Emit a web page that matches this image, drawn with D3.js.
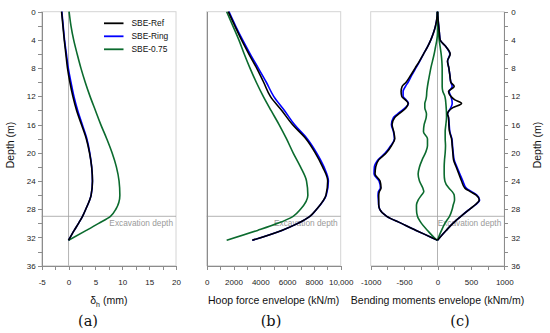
<!DOCTYPE html>
<html>
<head>
<meta charset="utf-8">
<script src="https://cdn.jsdelivr.net/npm/d3@7"></script>
<style>
  body { margin: 0; background: #fff; }
  svg { font-family: "Liberation Sans", Arial, sans-serif; }
  .axis path, .axis line { stroke: #8c8c8c; shape-rendering: crispEdges; }
  .axis text { fill: #222; font-size: 8px; }
</style>
</head>
<body>
<svg id="chart" width="550" height="333"></svg>
<script>
// ---- data ----
var seriesNames = ["SBE-Ref", "SBE-Ring", "SBE-0.75"];

// (a) lateral displacement (mm) vs depth (m)
var depthA = [0, 2, 4, 6, 8, 10, 12, 14, 16, 18, 20, 22, 24, 26, 28, 29, 30, 31, 32.4];
var refA   = [-1.3, -1.05, -0.8, -0.5, -0.2, 0.25, 0.8, 1.5, 2.4, 3.3, 3.9, 4.3, 4.45, 4.2, 3.2, 2.6, 1.85, 1.05, 0];
var ringA  = [-1.25, -1.0, -0.75, -0.4, -0.05, 0.45, 1.0, 1.7, 2.55, 3.4, 3.95, 4.3, 4.45, 4.2, 3.2, 2.6, 1.85, 1.05, 0];
var redA   = [0.1, 0.45, 0.95, 1.6, 2.3, 3.1, 4.0, 5.0, 6.0, 7.1, 8.1, 8.9, 9.4, 9.55, 8.8, 7.8, 5.6, 3.3, 0];

// (b) hoop force envelope (kN/m) vs depth (m)
var depthB = [0, 2, 4, 6, 8, 10, 12, 14, 16, 18, 20, 22, 24, 26, 28, 29, 30, 31, 32.4];
var refB   = [1610, 2100, 2600, 3150, 3730, 4250, 4750, 5600, 6400, 7400, 8100, 8650, 9030, 8900, 8200, 7700, 6800, 5600, 3400];
var ringB  = [1660, 2150, 2680, 3250, 3850, 4450, 5000, 5800, 6550, 7500, 8200, 8750, 9080, 8920, 8200, 7700, 6800, 5600, 3400];
var redB   = [1490, 1950, 2400, 2800, 3230, 3700, 4220, 4800, 5400, 5950, 6450, 7000, 7450, 7550, 7000, 6450, 5300, 3800, 1490];

// (c) bending moment envelope (kNm/m) vs depth (m), min and max branches
var depthC = [0, 1, 2, 3, 4, 5, 6, 7, 8, 9, 10, 10.6, 11.3, 12, 12.5, 13, 13.6, 14.5, 15, 16, 17, 18, 19, 20,
              21, 22, 23, 24, 25, 25.5, 26, 26.7, 27.4, 28, 29, 30, 31, 32, 32.4];
var refMinC  = [0, -10, -30, -60, -100, -150, -210, -270, -335, -400, -470, -530, -545, -535, -480, -440, -470, -580, -640, -680,
                -655, -640, -690, -765, -880, -925, -935, -860, -845, -870, -880, -880, -880, -865, -760, -540, -320, -90, 0];
var refMaxC  = [0, 8, 18, 28, 40, 130, 190, 150, 170, 185, 200, 250, 165, 200, 260, 360, 230, 150, 165, 170,
                180, 210, 220, 230, 240, 280, 320, 360, 410, 490, 580, 625, 560, 480, 350, 230, 130, 35, 0];
var ringMinC = [0, -10, -30, -60, -100, -150, -210, -265, -325, -385, -440, -480, -515, -515, -470, -435, -480, -600, -660, -690,
                -660, -645, -700, -780, -890, -945, -950, -875, -855, -885, -890, -885, -880, -865, -760, -540, -320, -90, 0];
var ringMaxC = [0, 8, 18, 28, 40, 130, 185, 150, 170, 185, 200, 220, 175, 200, 215, 220, 200, 150, 165, 175,
                185, 215, 225, 235, 250, 290, 335, 380, 430, 510, 590, 630, 565, 480, 350, 230, 130, 35, 0];
var redMinC  = [0, 0, 0, 0, -10, -30, -50, -75, -100, -120, -140, -150, -160, -165, -175, -190, -190, -165, -170, -200,
                -210, -150, -150, -180, -230, -270, -290, -270, -220, -205, -240, -290, -315, -315, -300, -240, -150, -50, 0];
var redMaxC  = [0, 0, 5, 15, 25, 40, 55, 65, 70, 70, 70, 70, 80, 110, 120, 125, 130, 135, 135, 125,
                115, 115, 120, 115, 105, 100, 100, 110, 170, 220, 250, 255, 235, 220, 180, 110, 60, 15, 0];

var depthTicks = d3.range(0, 37, 2);
var excavationDepth = 29;

// ---- layout ----
var svg = d3.select("#chart");
var plotTop = 11.7, plotBottom = 265.7;
var colors = {ref: "#000000", ring: "#0000ff", red: "#0b6b2e"};

var y = d3.scaleLinear().domain([0, 36]).range([plotTop, plotBottom]);

var panels = [
  {id: "a", x0: 41.7, x1: 176, domain: [-5, 20], ticks: d3.range(-5, 20.1, 2.5), labelEvery: 5},
  {id: "b", x0: 206.7, x1: 340.7, domain: [0, 10000], ticks: d3.range(0, 10001, 1000), labelEvery: 2000},
  {id: "c", x0: 370.7, x1: 504.3, domain: [-1000, 1000], ticks: d3.range(-1000, 1001, 250), labelEvery: 500}
];

panels.forEach(function(p) {
  p.x = d3.scaleLinear().domain(p.domain).range([p.x0, p.x1]);
  var g = svg.append("g").attr("class", "panel-" + p.id);
  p.g = g;

  // light frame
  g.append("rect")
    .attr("x", p.x0).attr("y", plotTop)
    .attr("width", p.x1 - p.x0).attr("height", plotBottom - plotTop)
    .attr("fill", "none").attr("stroke", "#d4d4d4").attr("stroke-width", 1);

  // bottom axis
  g.append("g")
    .attr("class", "axis")
    .attr("transform", "translate(0," + plotBottom + ")")
    .call(d3.axisBottom(p.x).tickValues(p.ticks).tickSize(4).tickPadding(9.5)
      .tickFormat(function(d) {
        if (Math.abs(d / p.labelEvery - Math.round(d / p.labelEvery)) > 1e-9) return "";
        return p.id == "b" && d == 10000 ? "10,000" : d;
      }));

  // excavation line + label (under the curves)
  g.append("line")
    .attr("x1", p.x0).attr("x2", p.x1)
    .attr("y1", y(excavationDepth)).attr("y2", y(excavationDepth))
    .attr("stroke", "#a0a0a0").attr("stroke-width", 0.8);
  g.append("text")
    .attr("x", p.x1 - 3).attr("y", y(excavationDepth) + 10)
    .attr("text-anchor", "end")
    .attr("font-size", "8.3px").attr("fill", "#9a9a9a")
    .text("Excavation depth");

  // zero line
  if (p.id != "b") {
    g.append("line")
      .attr("x1", p.x(0)).attr("x2", p.x(0))
      .attr("y1", plotTop).attr("y2", plotBottom)
      .attr("stroke", "#a0a0a0").attr("stroke-width", 0.8);
  }
});

// depth axes
svg.append("g")
  .attr("class", "axis")
  .attr("transform", "translate(" + panels[0].x0 + ",0)")
  .call(d3.axisLeft(y).tickValues(depthTicks).tickSize(4).tickPadding(2)
    .tickFormat(function(d) { return d % 4 == 0 ? d : ""; }));
svg.append("g")
  .attr("class", "axis")
  .attr("transform", "translate(" + panels[1].x0 + ",0)")
  .call(d3.axisLeft(y).tickValues([]).tickSize(0));
svg.append("g")
  .attr("class", "axis")
  .attr("transform", "translate(" + panels[2].x1 + ",0)")
  .call(d3.axisRight(y).tickValues(depthTicks).tickSize(4).tickPadding(3)
    .tickFormat(function(d) { return d % 4 == 0 ? d : ""; }));

// ---- curves ----
function drawLine(p, depths, values, color) {
  var pts = depths.map(function(d, i) { return [values[i], d]; });
  var line = d3.line()
    .x(function(d) { return p.x(d[0]); })
    .y(function(d) { return y(d[1]); })
    .curve(d3.curveMonotoneY);
  p.g.append("path")
    .datum(pts)
    .attr("d", line)
    .attr("fill", "none")
    .attr("stroke", color)
    .attr("stroke-width", 1.6)
    .attr("stroke-linejoin", "round");
}

drawLine(panels[0], depthA, ringA, colors.ring);
drawLine(panels[0], depthA, redA, colors.red);
drawLine(panels[0], depthA, refA, colors.ref);

drawLine(panels[1], depthB, ringB, colors.ring);
drawLine(panels[1], depthB, redB, colors.red);
drawLine(panels[1], depthB, refB, colors.ref);

drawLine(panels[2], depthC, ringMinC, colors.ring);
drawLine(panels[2], depthC, ringMaxC, colors.ring);
drawLine(panels[2], depthC, redMinC, colors.red);
drawLine(panels[2], depthC, redMaxC, colors.red);
drawLine(panels[2], depthC, refMinC, colors.ref);
drawLine(panels[2], depthC, refMaxC, colors.ref);

// ---- legend ----
var legend = svg.append("g").attr("class", "legend");
[colors.ref, colors.ring, colors.red].forEach(function(c, i) {
  var ly = 23.3 + i * 13;
  legend.append("line")
    .attr("x1", 104).attr("x2", 123.5).attr("y1", ly).attr("y2", ly)
    .attr("stroke", c).attr("stroke-width", 1.8);
  legend.append("text")
    .attr("x", 131.5).attr("y", ly + 3)
    .attr("font-size", "8.4px").attr("fill", "#111")
    .text(seriesNames[i]);
});

// ---- titles ----
var xTitle = svg.append("text")
  .attr("x", (panels[0].x0 + panels[0].x1) / 2).attr("y", 304)
  .attr("text-anchor", "middle").attr("font-size", "10.5px").attr("fill", "#111");
xTitle.append("tspan").text("δ");
xTitle.append("tspan").attr("font-size", "7px").attr("dy", 2.5).text("h");
xTitle.append("tspan").attr("dy", -2.5).text(" (mm)");

svg.append("text")
  .attr("x", (panels[1].x0 + panels[1].x1) / 2).attr("y", 304)
  .attr("text-anchor", "middle").attr("font-size", "10.5px").attr("fill", "#111")
  .text("Hoop force envelope (kN/m)");
svg.append("text")
  .attr("x", (panels[2].x0 + panels[2].x1) / 2).attr("y", 304)
  .attr("text-anchor", "middle").attr("font-size", "10.5px").attr("fill", "#111")
  .text("Bending moments envelope (kNm/m)");

svg.append("text")
  .attr("transform", "translate(14,145) rotate(-90)")
  .attr("text-anchor", "middle").attr("font-size", "10.5px").attr("fill", "#111")
  .text("Depth (m)");
svg.append("text")
  .attr("transform", "translate(541,145) rotate(-90)")
  .attr("text-anchor", "middle").attr("font-size", "10.5px").attr("fill", "#111")
  .text("Depth (m)");

// sub-figure labels
var subLabels = ["(a)", "(b)", "(c)"];
var subX = [88, 271, 460];
subLabels.forEach(function(t, i) {
  svg.append("text")
    .attr("x", subX[i]).attr("y", 326)
    .attr("text-anchor", "middle")
    .attr("font-family", "'DejaVu Serif', 'Liberation Serif', serif")
    .attr("font-size", "14.5px").attr("fill", "#111")
    .text(t);
});
</script>
</body>
</html>
